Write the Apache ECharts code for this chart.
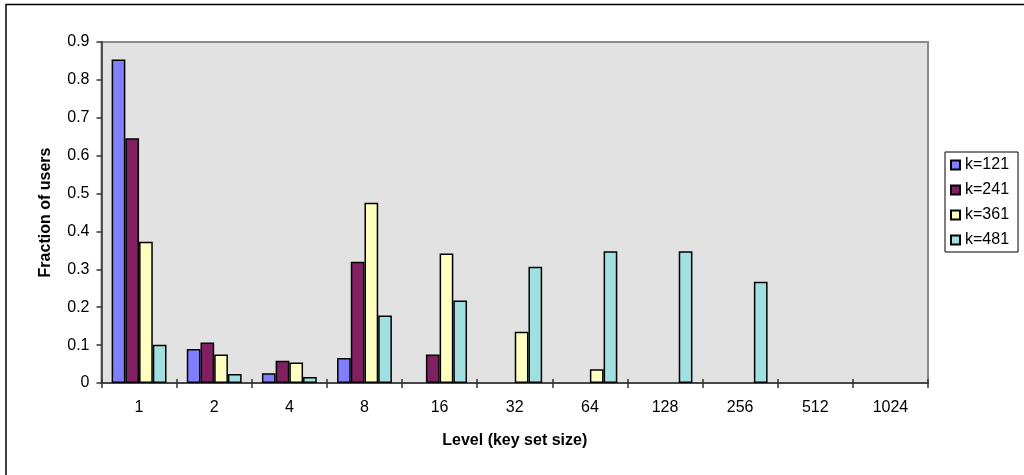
<!DOCTYPE html>
<html>
<head>
<meta charset="utf-8">
<style>
  html, body { margin: 0; padding: 0; background: #ffffff; }
  #chart { width: 1024px; height: 475px; }
</style>
<script src="https://cdn.jsdelivr.net/npm/echarts@6/dist/echarts.min.js"></script>
</head>
<body>
<div id="chart"></div>
<script>
// Level (key set size) categories
const levels = ['1', '2', '4', '8', '16', '32', '64', '128', '256', '512', '1024'];

// Fraction of users at each level, per k
const k121 = [0.854, 0.090, 0.026, 0.066, 0, 0, 0, 0, 0, 0, 0];
const k241 = [0.646, 0.107, 0.059, 0.320, 0.075, 0, 0, 0, 0, 0, 0];
const k361 = [0.373, 0.075, 0.054, 0.476, 0.342, 0.135, 0.036, 0, 0, 0, 0];
const k481 = [0.101, 0.024, 0.016, 0.178, 0.218, 0.307, 0.348, 0.348, 0.267, 0, 0];

const seriesNames = ['k=121', 'k=241', 'k=361', 'k=481'];
const seriesData = [k121, k241, k361, k481];
const seriesColors = ['#8080FF', '#802060', '#FFFFC0', '#A0E0E0'];

const font = 'Liberation Sans, Arial, sans-serif';
const chart = echarts.init(document.getElementById('chart'));

chart.setOption({
  animation: false,
  textStyle: { fontFamily: font },
  graphic: [
    {
      type: 'rect',
      shape: { x: 6, y: 4.5, width: 1040, height: 500 },
      style: { fill: 'none', stroke: '#000', lineWidth: 1.5 },
      silent: true,
      z: -10
    }
  ],
  grid: {
    left: 101.5,
    right: 96,
    top: 42,
    bottom: 92,
    show: true,
    backgroundColor: '#E2E2E2',
    borderColor: '#8a8a8a',
    borderWidth: 2
  },
  legend: {
    orient: 'vertical',
    left: 945,
    top: 152,
    padding: [5, 9, 4, 5],
    itemWidth: 9,
    itemHeight: 9,
    itemGap: 9,
    backgroundColor: '#ffffff',
    borderColor: '#000',
    borderWidth: 1,
    icon: 'rect',
    textStyle: { fontFamily: font, fontSize: 16, color: '#000', lineHeight: 16 },
    data: seriesNames
  },
  xAxis: [
    {
      type: 'category',
      data: levels,
      name: 'Level (key set size)',
      nameLocation: 'middle',
      nameGap: 50,
      nameTextStyle: { fontFamily: font, fontSize: 16, fontWeight: 'bold', color: '#000' },
      axisLine: { lineStyle: { color: '#333', width: 1.5 } },
      axisTick: { show: true, length: 5, lineStyle: { color: '#333', width: 1.5 } },
      axisLabel: { fontFamily: font, fontSize: 16, color: '#000', margin: 17 }
    },
    {
      type: 'category',
      data: levels,
      position: 'bottom',
      axisLine: { show: false },
      axisTick: { show: true, inside: true, length: 4, lineStyle: { color: '#333', width: 1.5 } },
      axisLabel: { show: false }
    }
  ],
  yAxis: {
    type: 'value',
    min: 0,
    max: 0.9,
    interval: 0.1,
    name: 'Fraction of users',
    nameLocation: 'middle',
    nameGap: 48,
    nameRotate: 90,
    nameTextStyle: { fontFamily: font, fontSize: 16, fontWeight: 'bold', color: '#000' },
    splitLine: { show: false },
    axisLine: { show: true, lineStyle: { color: '#333', width: 1.5 } },
    axisTick: { show: true, length: 5, lineStyle: { color: '#333', width: 1.5 } },
    axisLabel: {
      fontFamily: font, fontSize: 16, color: '#000', margin: 12,
      formatter: v => String(Math.round(v * 10) / 10)
    }
  },
  series: seriesNames.map((name, i) => ({
    name: name,
    type: 'bar',
    xAxisIndex: 0,
    // empty levels have no bar at all
    data: seriesData[i].map(v => (v === 0 ? '-' : v)),
    barGap: '0%',
    barCategoryGap: '27%',
    itemStyle: { color: seriesColors[i], borderColor: '#000', borderWidth: 1.5 }
  }))
});
</script>
</body>
</html>
